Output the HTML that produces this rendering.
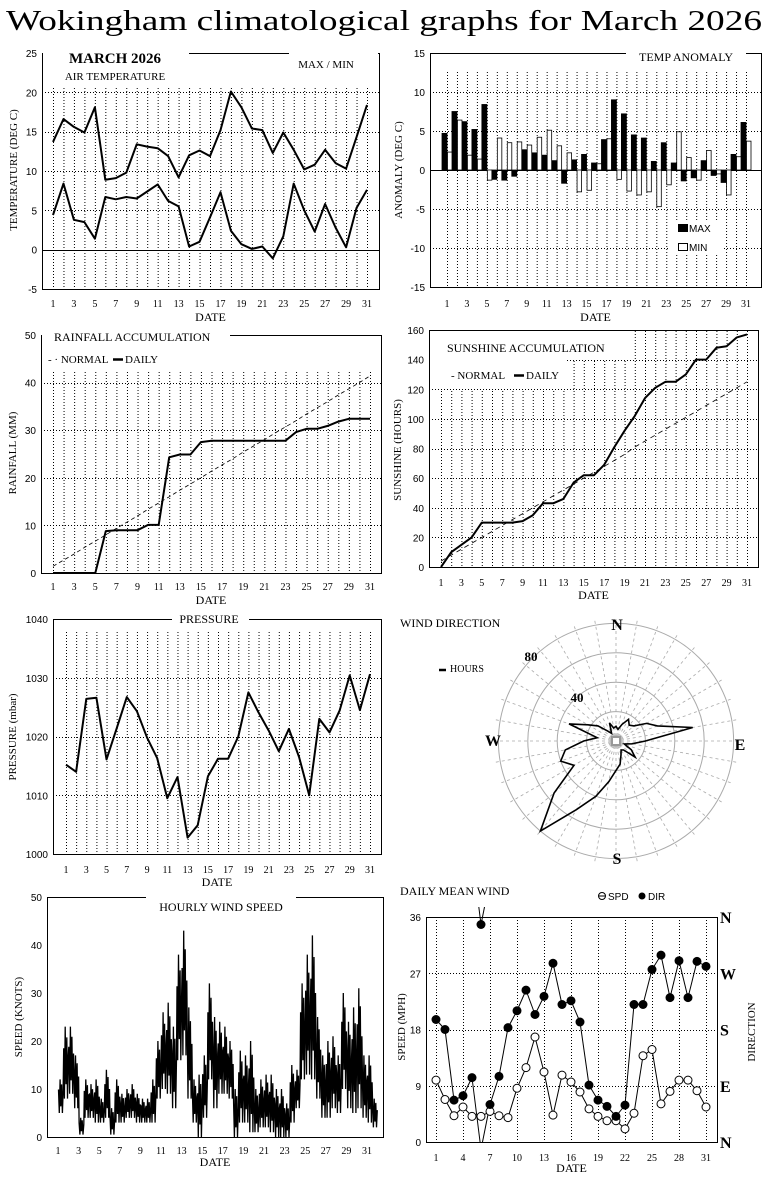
<!DOCTYPE html>
<html><head><meta charset="utf-8"><title>Wokingham climatological graphs for March 2026</title>
<style>
html,body{margin:0;padding:0;background:#fff;}
svg{display:block;}
text{font-family:"Liberation Serif",serif;fill:#000;}
.sans{font-family:"Liberation Sans",sans-serif;}
</style></head>
<body>
<svg id="chart" width="768" height="1177" viewBox="0 0 768 1177" xmlns="http://www.w3.org/2000/svg">
<rect x="0" y="0" width="768" height="1177" fill="#fff"/>
<text x="6" y="30" font-size="29" textLength="756" lengthAdjust="spacingAndGlyphs">Wokingham climatological graphs for March 2026</text>
</svg>
<script>
// ---------- DATA ----------
const days = [1,2,3,4,5,6,7,8,9,10,11,12,13,14,15,16,17,18,19,20,21,22,23,24,25,26,27,28,29,30,31];
const tempMax = [13.7,16.6,15.6,14.9,18.1,8.9,9.1,9.8,13.4,13.1,12.9,11.9,9.2,12.0,12.6,11.9,15.2,20.1,18.1,15.4,15.2,12.3,14.9,12.7,10.2,10.8,12.7,11.0,10.3,14.3,18.4];
const tempMin = [4.4,8.4,3.8,3.5,1.4,6.7,6.4,6.7,6.5,7.4,8.3,6.2,5.5,0.4,1.0,4.1,7.3,2.4,0.7,0.1,0.4,-1.1,1.7,8.4,5.0,2.3,5.8,2.8,0.3,5.3,7.6];
const anomMax = [4.7,7.5,6.2,5.2,8.4,-1.2,-1.3,-0.8,2.6,2.2,1.9,1.2,-1.7,1.3,2.0,0.9,3.9,9.0,7.2,4.5,4.1,1.1,3.5,0.9,-1.4,-1.0,1.2,-0.7,-1.6,2.0,6.1];
const anomMin = [2.3,6.4,1.9,1.4,-1.3,4.1,3.5,3.6,3.2,4.2,5.1,3.1,2.2,-2.8,-2.6,0.8,4.0,-1.2,-2.7,-3.2,-2.8,-4.7,-1.9,4.9,1.6,-1.3,2.5,-0.5,-3.2,1.7,3.7];
const rainDaily = [0,0,0,0,0,8.8,9.0,9.0,9.0,10.1,10.1,24.3,24.9,24.9,27.5,27.8,27.8,27.8,27.8,27.8,27.8,27.8,27.8,29.6,30.3,30.3,30.9,31.8,32.4,32.4,32.4];
const rainNormal = [1.4,2.7,4.0,5.4,6.7,8.0,9.4,10.7,12.0,13.4,14.7,16.0,17.4,18.7,20.0,21.4,22.7,24.0,25.4,26.7,28.0,29.4,30.7,32.0,33.4,34.7,36.0,37.4,38.7,40.0,41.4];
const sunDaily = [0,10,15,20,30,30,30,30,31,35,43,43,46,57,62,62,69,81,92,102,114,121,125,125,130,140,140,148,149,155,157];
const sunNormal = [4,8,12,16,20,24,28,32,36,40,44,48,52,56,60,64,68,72,76,81,85,89,93,97,101,105,109,113,117,121,125];
const pressure = [1015.2,1014.0,1026.4,1026.6,1016.1,1021.4,1026.7,1024.3,1019.8,1016.3,1009.5,1013.1,1002.8,1004.9,1013.2,1016.2,1016.2,1020.0,1027.5,1024.1,1021.0,1017.5,1021.3,1016.5,1010.0,1023.0,1020.7,1024.4,1030.4,1024.5,1030.6];
const roseDirs = [0,10,20,30,40,50,60,70,80,90,100,110,120,130,140,150,160,170,180,190,200,210,220,230,240,250,260,270,280,290,300,310,320,330,340,350];
const roseHours = [10,8,12,17,14,16,24,30,53,20,11,6,12,17,8,7,10,16,20,28,40,54,80,55,33,40,35,22,13,34,22,16,9,6,13,9];
// hourly wind: half-day high / low envelope (knots), 62 slots
const windHi = [12,23,23,17,4,12,11,12,8,14,6,12,9,10,11,9,8,8,12,20,26,28,23,38,43,27,12,13,17,32,25,24,23,20,10,18,17,20,10,12,13,13,10,10,7,15,14,32,38,42,25,17,20,21,17,30,24,27,31,17,17,8];
const windLo = [5,8,9,6,0.5,4,4,3,3,4,0.5,3,3,4,4,3,3,3,3,8,10,9,6,16,17,8,3,0,4,12,6,9,9,8,0,3,3,1,1,2,2,1,0,0,0,3,6,12,13,12,8,4,4,6,5,10,6,5,6,4,3,2];
const meanSpd = [9.9,6.8,4.2,5.6,4.1,4.1,4.9,4.2,3.9,8.6,11.9,16.8,11.2,4.3,10.7,9.6,8.0,5.3,4.1,3.4,3.4,2.1,4.6,13.8,14.8,6.1,8.1,9.9,9.9,8.2,5.6];
const meanDir = [196,180,67,74,103,348,60,105,183,210,243,204,233,286,220,226,192,91,67,57,41,59,220,220,276,299,231,290,231,289,281];
const tempTicks = [-5,0,5,10,15,20,25];
const anomTicks = [-15,-10,-5,0,5,10,15];
const rainTicks = [0,10,20,30,40,50];
const sunTicks = [0,20,40,60,80,100,120,140,160];
const presTicks = [1000,1010,1020,1030,1040];
const windTicks = [0,10,20,30,40,50];
const spdTicks = [0,9,18,27,36];
const dirLabels = ['N','E','S','W','N'];

// ---------- HELPERS ----------
const NS = 'http://www.w3.org/2000/svg';
const svg = document.getElementById('chart');
function mk(tag, attrs, parent){ const e=document.createElementNS(NS,tag); for(const k in attrs) e.setAttribute(k,attrs[k]); (parent||svg).appendChild(e); return e; }
function txt(x,y,s,attrs,parent){ const e=mk('text',Object.assign({x:x,y:y},attrs||{}),parent); e.textContent=s; return e; }
function scales(p){
  p.sx = d => p.x1 + (d-1)*(p.x31-p.x1)/30;
  p.sy = v => p.B - (v-p.ymin)/(p.ymax-p.ymin)*(p.B-p.T);
}
function frame(p){
  const g = mk('g',{});
  
  
  p.g = g;
  scales(p);
  if(p.vgrid){
    p.vgrid.forEach(d=>{
      const l = mk('line',{x1:p.sx(d)+0.5,x2:p.sx(d)+0.5,y1:p.gridTop,y2:p.B,stroke:'#000','stroke-dasharray':'1,2','stroke-width':1},g);
      
      
    });
  }
  if(p.hgrid){
    p.ticks.forEach(v=>{
      if(v===p.ymin||v===p.ymax) return;
      const y = Math.round(p.sy(v))+0.5;
      const l = mk('line',{x1:p.L,x2:p.R,y1:y,y2:y,stroke:'#000','stroke-dasharray':(p.zeroSolid&&v===0)?'none':'1,2','stroke-width':1},g);
      
      
    });
  }
  const fr = mk('rect',{x:p.L+0.5,y:p.T+0.5,width:p.R-p.L,height:p.B-p.T,fill:'none',stroke:'#000','stroke-width':1},g);
  
  
  (p.blank||[]).forEach(b=>{
    const r = mk('rect',{x:b[0],y:b[1],width:b[2],height:b[3],fill:'#fff'},g);
    
    
  });
  p.ticks.forEach(v=>{
    const t = txt(p.L-5, p.sy(v)+4, String(v), {'font-size':10,'text-anchor':'end','class':'sans'}, g);
    
    
  });
  p.xlab.forEach(d=>{
    const t = txt(p.sx(d), p.xlabY, String(d), {'font-size':10,'text-anchor':'middle'}, g);
    
    
  });
  const dt = txt((p.L+p.R)/2, p.dateY, 'DATE', {'font-size':12,'text-anchor':'middle'}, g);
  
  
  const yt = txt(0,0,p.ytitle,{'font-size':11,'text-anchor':'middle',transform:'translate('+p.ytX+','+p.ytY+') rotate(-90)'},g);
  
  
  return g;
}
function linePath(p, vals, dash, w, g, name){
  const d = vals.map((v,i)=>(i?'L':'M')+p.sx(days[i]).toFixed(1)+','+p.sy(v).toFixed(1)).join('');
  const e = mk('path',{d:d,fill:'none',stroke:'#000','stroke-width':w,'stroke-dasharray':dash||'none','stroke-linejoin':'round'},g);
  
  
  return e;
}
const allDays = days.slice();
const oddDays = days.filter(d=>d%2===1);

// ---------- TEMPERATURE ----------
const pT = {name:'air-temperature-chart',L:42,R:379,T:53,B:289,x1:53,x31:367,ymin:-5,ymax:25,ticks:tempTicks,
  vgrid:allDays,gridTop:88,hgrid:true,zeroSolid:true,xlab:oddDays,xlabY:307,dateY:321,ytitle:'TEMPERATURE (DEG C)',ytX:17,ytY:170,
  blank:[[43,48,146,38],[289,48,89,28]]};
const gT = frame(pT);
let t;
t = txt(115,63,'MARCH 2026',{'font-size':15,'font-weight':'bold','text-anchor':'middle'},gT);
 
t = txt(115,80,'AIR TEMPERATURE',{'font-size':11,'text-anchor':'middle'},gT);
 
t = txt(326,68,'MAX / MIN',{'font-size':11,'text-anchor':'middle'},gT);
 
linePath(pT,tempMax,null,2,gT,'max-temp-line');
linePath(pT,tempMin,null,2,gT,'min-temp-line');

// ---------- ANOMALY ----------
const pA = {name:'temp-anomaly-chart',L:430,R:761,T:53,B:287,x1:447,x31:746,ymin:-15,ymax:15,ticks:anomTicks,
  vgrid:allDays,gridTop:72,hgrid:true,zeroSolid:true,xlab:oddDays,xlabY:307,dateY:321,ytitle:'ANOMALY (DEG C)',ytX:402,ytY:170,
  blank:[[626,48,120,20],[668,220,54,34]]};
const gA = frame(pA);
t = txt(686,61,'TEMP ANOMALY',{'font-size':12,'text-anchor':'middle'},gA);
 
anomMax.forEach((v,i)=>{
  const x = pA.sx(days[i]); const y0 = pA.sy(0), y1 = pA.sy(v);
  const r = mk('rect',{x:x-5,y:Math.min(y0,y1),width:5,height:Math.abs(y1-y0),fill:'#000',stroke:'#000','stroke-width':0.8},gA);
  
  
});
anomMin.forEach((v,i)=>{
  const x = pA.sx(days[i]); const y0 = pA.sy(0), y1 = pA.sy(v);
  const r = mk('rect',{x:x+0.5,y:Math.min(y0,y1),width:4.5,height:Math.abs(y1-y0),fill:'#fff',stroke:'#000','stroke-width':0.8},gA);
  
  
});
let lg = mk('rect',{x:678,y:224,width:10,height:8,fill:'#000'},gA);
 
t = txt(689,232,'MAX',{'font-size':10,'class':'sans'},gA);
 
lg = mk('rect',{x:678.5,y:243.5,width:9,height:7,fill:'#fff',stroke:'#000'},gA);
 
t = txt(689,251,'MIN',{'font-size':10,'class':'sans'},gA);
 

// ---------- RAINFALL ----------
const pR = {name:'rainfall-chart',L:41,R:381,T:335,B:573,x1:53,x31:370,ymin:0,ymax:50,ticks:rainTicks,
  vgrid:allDays,gridTop:372,hgrid:true,xlab:oddDays,xlabY:590,dateY:604,ytitle:'RAINFALL (MM)',ytX:16,ytY:453,
  blank:[[42,328,188,42]]};
const gR = frame(pR);
t = txt(54,341,'RAINFALL ACCUMULATION',{'font-size':12},gR);
 
t = txt(48,363,'- · NORMAL',{'font-size':11},gR);
 
lg = mk('line',{x1:113,x2:123,y1:359.5,y2:359.5,stroke:'#000','stroke-width':2.5},gR);
 
t = txt(125,363,'DAILY',{'font-size':11},gR);
 
linePath(pR,rainNormal,'4,3',0.8,gR,'rain-normal-line');
linePath(pR,rainDaily,null,2,gR,'rain-daily-line');

// ---------- SUNSHINE ----------
const pS = {name:'sunshine-chart',L:429,R:758,T:330,B:567,x1:441,x31:747,ymin:0,ymax:160,ticks:sunTicks,
  vgrid:allDays,gridTop:331,hgrid:true,xlab:oddDays,xlabY:586,dateY:599,ytitle:'SUNSHINE (HOURS)',ytX:401,ytY:450,
  blank:[[430,331,198,28],[430,359,136,30]]};
const gS = frame(pS);
t = txt(447,352,'SUNSHINE ACCUMULATION',{'font-size':12},gS);
 
t = txt(451,379,'-  NORMAL',{'font-size':11},gS);
 
lg = mk('line',{x1:514,x2:524,y1:375.5,y2:375.5,stroke:'#000','stroke-width':2.5},gS);
 
t = txt(526,379,'DAILY',{'font-size':11},gS);
 
linePath(pS,sunNormal,'5,4',0.8,gS,'sunshine-normal-line');
linePath(pS,sunDaily,null,2,gS,'sunshine-daily-line');

// ---------- PRESSURE ----------
const pP = {name:'pressure-chart',L:53,R:381,T:619,B:854,x1:66,x31:370,ymin:1000,ymax:1040,ticks:presTicks,
  vgrid:allDays,gridTop:632,hgrid:true,xlab:oddDays,xlabY:873,dateY:886,ytitle:'PRESSURE (mbar)',ytX:16,ytY:737,
  blank:[[172,612,77,16]]};
const gP = frame(pP);
t = txt(209,623,'PRESSURE',{'font-size':12,'text-anchor':'middle'},gP);
 
linePath(pP,pressure,null,2,gP,'pressure-line');

// ---------- WIND ROSE ----------
const gW = mk('g',{});


const cx = 616, cy = 741, k = 1.47;
[20,40,60,80].forEach(v=>{
  const c = mk('circle',{cx:cx,cy:cy,r:v*k,fill:'none',stroke:'#aaa','stroke-width':1},gW);
   
});
roseDirs.forEach(a=>{
  const r = a*Math.PI/180;
  const l = mk('line',{x1:cx+5*Math.sin(r),y1:cy-5*Math.cos(r),x2:cx+84*k*Math.sin(r),y2:cy-84*k*Math.cos(r),stroke:'#aaa','stroke-dasharray':'3,3','stroke-width':0.8},gW);
   
});
let cs = mk('rect',{x:cx-4,y:cy-4,width:8,height:8,fill:'none',stroke:'#999','stroke-width':2},gW);
 
const rosePts = roseHours.map((h,i)=>{ const r=roseDirs[i]*Math.PI/180; return (cx+h*k*Math.sin(r)).toFixed(1)+','+(cy-h*k*Math.cos(r)).toFixed(1); }).join(' ');
const rp = mk('polygon',{points:rosePts,fill:'none',stroke:'#000','stroke-width':1.6,'stroke-linejoin':'miter'},gW);
 
[['N',617,630],['E',740,750],['S',617,864],['W',493,746]].forEach(c=>{
  const e = txt(c[1],c[2],c[0],{'font-size':16,'font-weight':'bold','text-anchor':'middle'},gW);
   
});
t = txt(531,661,'80',{'font-size':13,'font-weight':'bold','text-anchor':'middle'},gW);
 
t = txt(577,702,'40',{'font-size':13,'font-weight':'bold','text-anchor':'middle'},gW);
 
t = txt(400,627,'WIND DIRECTION',{'font-size':12},gW);
 
lg = mk('line',{x1:439,x2:446,y1:670,y2:670,stroke:'#000','stroke-width':2.5},gW);
 
t = txt(450,672,'HOURS',{'font-size':10},gW);
 

// ---------- HOURLY WIND ----------
const pH = {name:'hourly-wind-speed-chart',L:47,R:383,T:897,B:1137,x1:58,x31:367,ymin:0,ymax:50,ticks:windTicks,
  vgrid:null,hgrid:false,xlab:oddDays,xlabY:1154,dateY:1166,ytitle:'SPEED (KNOTS)',ytX:22,ytY:1017,
  blank:[[146,891,150,22]]};
const gH = frame(pH);
t = txt(221,911,'HOURLY WIND SPEED',{'font-size':12,'text-anchor':'middle'},gH);
 
const step = (pH.x31-pH.x1)/30/2;
// zig-zag trace alternating between high and low in each half-day slot
let hd = '';
windHi.forEach((v,i)=>{
  const x0 = pH.x1 + i*step;
  const lo = windLo[i];
  const pts = [[0.1,v*0.7+lo*0.3],[0.25,lo],[0.4,v],[0.55,lo*0.8+v*0.2],[0.7,v*0.85+lo*0.15],[0.85,lo],[1.0,v*0.6+lo*0.4]];
  pts.forEach((q,j)=>{ hd += ((i===0&&j===0)?'M':'L') + (x0+q[0]*step).toFixed(1) + ',' + pH.sy(q[1]).toFixed(1); });
});
const htrace = mk('path',{d:hd,fill:'none',stroke:'#000','stroke-width':1.3,'stroke-linejoin':'miter'},gH);
 

// ---------- DAILY MEAN WIND ----------
const pD = {name:'daily-mean-wind-chart',L:426,R:717,T:917,B:1142,x1:436,x31:706,ymin:0,ymax:36,ticks:spdTicks,
  vgrid:[1,4,7,10,13,16,19,22,25,28,31],gridTop:917,hgrid:true,xlab:[1,4,7,10,13,16,19,22,25,28,31],xlabY:1161,dateY:1172,ytitle:'SPEED (MPH)',ytX:405,ytY:1027,
  blank:[]};
const gD = frame(pD);
t = txt(400,895,'DAILY MEAN WIND',{'font-size':12},gD);
 
dirLabels.forEach((s,i)=>{
  const e = txt(720,pD.sy(spdTicks[i])+6,s,{'font-size':16,'font-weight':'bold'},gD);
   
});
t = txt(0,0,'DIRECTION',{'font-size':11,'text-anchor':'middle',transform:'translate(755,1032) rotate(-90)'},gD);
 
let lc = mk('circle',{cx:602,cy:896,r:3.5,fill:'#fff',stroke:'#000'},gD);
 
lc = mk('line',{x1:598.5,x2:605.5,y1:896,y2:896,stroke:'#000'},gD);
 
t = txt(608,900,'SPD',{'font-size':10,'class':'sans'},gD);
 
lc = mk('circle',{cx:642,cy:896,r:3.5,fill:'#000'},gD);
 
t = txt(648,900,'DIR',{'font-size':10,'class':'sans'},gD);
 
const defs = mk('defs',{});
const cp = mk('clipPath',{id:'dclip'},defs);
mk('rect',{x:pD.L,y:pD.T-10,width:pD.R-pD.L,height:pD.B-pD.T+10},cp);
const gDl = mk('g',{'clip-path':'url(#dclip)'},gD);


const du = meanDir.map(d=>d*36/360);
for(let i=0;i<du.length-1;i++){
  const a=du[i], b=du[i+1], xa=pD.sx(days[i]), xb=pD.sx(days[i+1]);
  let segs=[[a,b]];
  if(b-a>18) segs=[[a,b-36],[a+36,b]];
  else if(a-b>18) segs=[[a,b+36],[a-36,b]];
  segs.forEach(s=>{
    const l = mk('line',{x1:xa,y1:pD.sy(s[0]),x2:xb,y2:pD.sy(s[1]),stroke:'#000','stroke-width':1},gDl);
     
  });
}
linePath(pD,meanSpd,null,1,gD,'speed-line');
meanSpd.forEach((v,i)=>{
  const c = mk('circle',{cx:pD.sx(days[i]),cy:pD.sy(v),r:4,fill:'#fff',stroke:'#000'},gD);
   
});
du.forEach((v,i)=>{
  const c = mk('circle',{cx:pD.sx(days[i]),cy:pD.sy(v),r:4.5,fill:'#000'},gD);
   
});
</script>
</body></html>
